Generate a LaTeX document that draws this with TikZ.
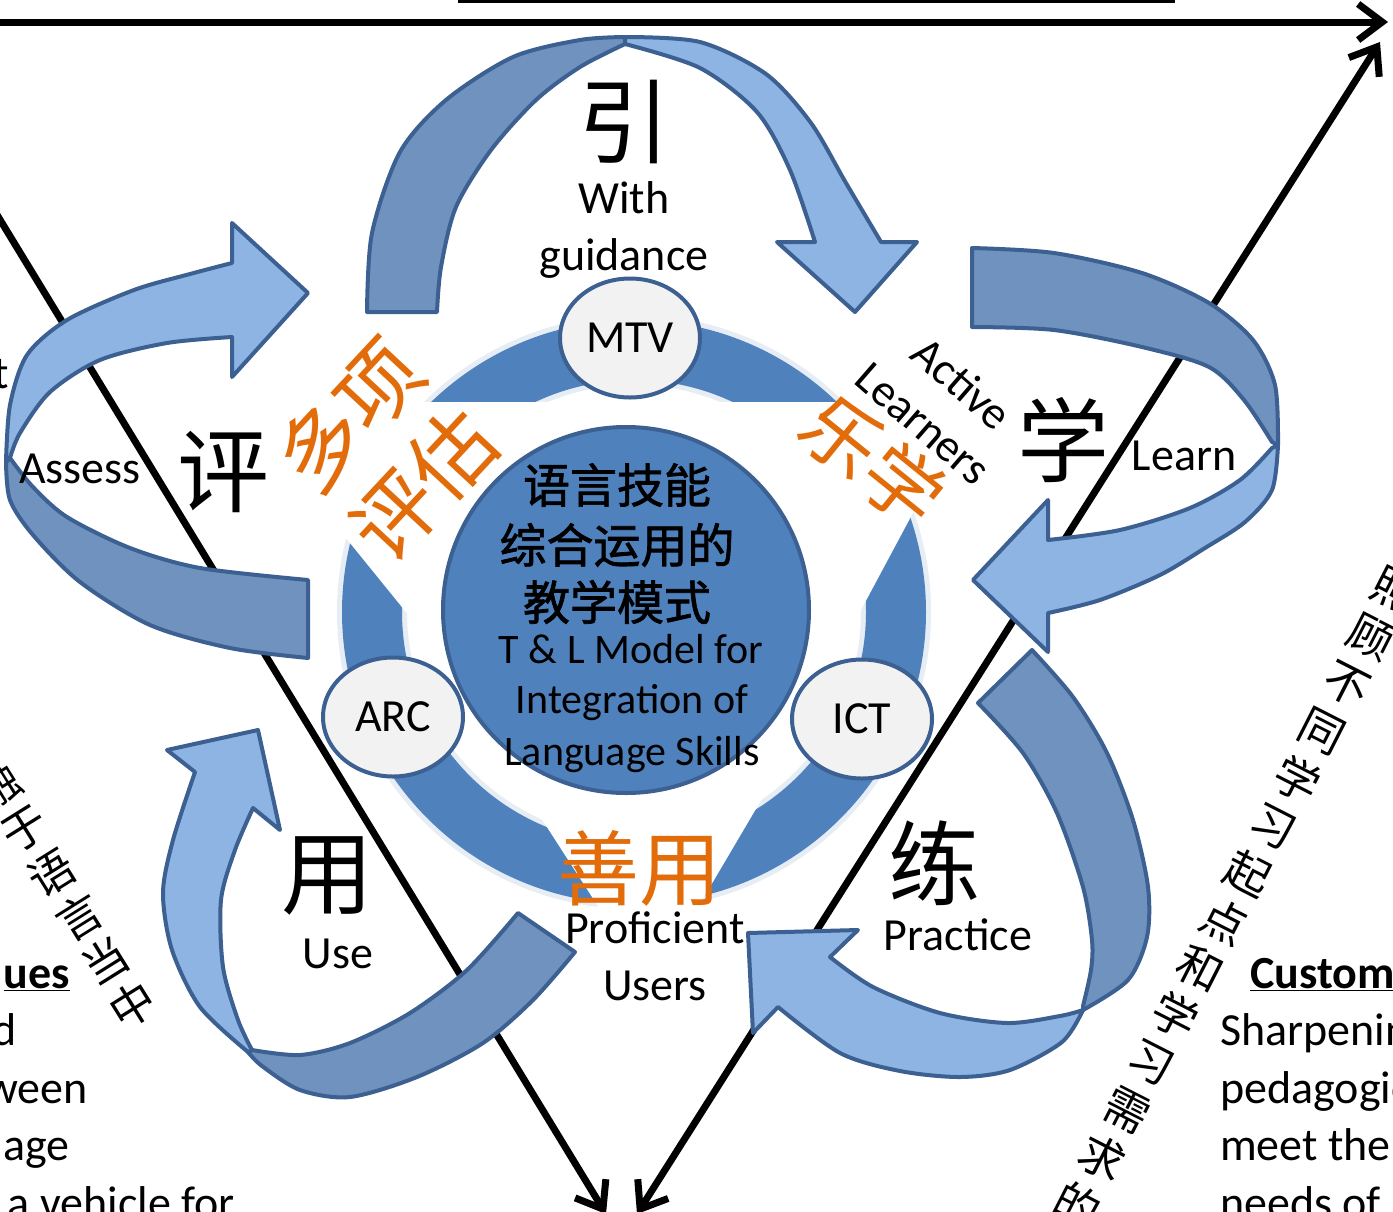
\documentclass[tikz,border=0pt]{standalone}
\usepackage{fontspec}
\setmainfont{Carlito}
\newfontfamily\cjk{Noto Sans CJK SC}
\newfontfamily\cjkb[FakeBold=1.5]{Noto Sans CJK SC}
\usetikzlibrary{arrows.meta,shapes.geometric}
\definecolor{banddark}{RGB}{112,146,190}
\definecolor{bandlight}{RGB}{141,180,226}
\definecolor{bandline}{RGB}{59,96,145}
\definecolor{hubblue}{RGB}{79,129,189}
\definecolor{bubblefill}{RGB}{242,242,242}
\definecolor{zicheng}{RGB}{226,108,10}
\begin{document}
\begin{tikzpicture}[x=1pt,y=-1pt,
  darkband/.style={fill=banddark,draw=bandline,line width=4pt,line join=round},
  lightband/.style={fill=bandlight,draw=bandline,line width=4pt,line join=round},
  bubble/.style={ellipse,fill=bubblefill,draw=bandline,line width=4pt,minimum width=140pt,minimum height=119pt,inner sep=0pt,font=\fontsize{46}{50}\selectfont},
  lbl/.style={inner sep=0pt,font=\fontsize{46}{57}\selectfont},
  bigzi/.style={inner sep=0pt,font=\cjk\fontsize{92}{92}\selectfont},
  orangezi/.style={inner sep=0pt,text=zicheng,font=\cjk\fontsize{84}{101}\selectfont},
  hubzi/.style={inner sep=0pt,font=\cjkb\fontsize{47}{47}\selectfont},
  hubtxt/.style={inner sep=0pt,font=\fontsize{42}{50}\selectfont},
  sidezi/.style={inner sep=0pt,font=\cjk\fontsize{45}{45}\selectfont},
  axis/.style={line width=7pt,line cap=round}]
\useasboundingbox (0,0) rectangle (1393,1211);
\fill[white] (0,0) rectangle (1393,1211);

% frame lines
\coordinate (topL) at (-5,22);
\coordinate (topR) at (1388,22);
\coordinate (lA) at (-12,200);
\coordinate (lB) at (606,1214);
\coordinate (rA) at (1380,42);
\coordinate (rB) at (637,1214);
\draw[line width=3pt] (458,1) -- (1175,1);
\draw[axis,-{Straight Barb[length=24pt,width=36pt]}] (topL) -- (topR);
\draw[axis,-{Straight Barb[length=24pt,width=36pt]}] (lA) -- (lB);
\draw[axis,{Straight Barb[length=24pt,width=36pt]}-{Straight Barb[length=24pt,width=36pt]}] (rA) -- (rB);

% ring
\coordinate (rc) at (634,612);
\fill[hubblue!40,opacity=.35,even odd rule] (rc) circle (297) (rc) circle (227);
\fill[hubblue,even odd rule] (rc) circle (292) (rc) circle (232);
\fill[white] (320,506) -- (320,402) -- (600,402) -- (600,654) -- (440,654) -- cycle;
\fill[white] (650,402) -- (960,402) -- (960,425) -- (831,666) -- (650,666) -- cycle;
\fill[white] (465,700) -- (819,702) -- (694,914) -- (603,914) -- cycle;

% hub and bubbles
\node[circle,fill=hubblue,draw=bandline,line width=4pt,minimum size=366pt,inner sep=0pt] (hub) at (626,610) {};
\node[hubzi] (h1) at (617,485) {语言技能};
\node[hubzi] (h2) at (617,545) {综合运用的};
\node[hubzi] (h3) at (617,602) {教学模式};
\node[hubtxt,anchor=base] (h4) at (631,663) {T \& L Model for};
\node[hubtxt,anchor=base] (h5) at (632,713) {Integration of};
\node[hubtxt,anchor=base] (h6) at (632,765) {Language Skills};
\node[bubble] (mtv) at (630,338) {MTV};
\node[bubble] (arc) at (393,717) {ARC};
\node[bubble] (ict) at (862,719) {ICT};

% top arrow
\filldraw[darkband] plot[smooth] coordinates {(367,312) (372,233) (400,152) (446,100) (513,57) (580,40) (625,37)}
  -- plot[smooth] coordinates {(625,44) (580,67) (536,100) (491,150) (456,207) (441,267) (437,312)} -- cycle;
\filldraw[lightband] plot[smooth] coordinates {(625,37) (700,42) (766,74) (811,123) (846,183) (881,242)}
  -- (917,242) -- (855,312) -- (777,242)
  -- plot[smooth] coordinates {(815,242) (790,170) (757,112) (700,68) (625,44)} -- cycle;
% right arrow
\filldraw[darkband] plot[smooth] coordinates {(972,248) (1054,253) (1142,273) (1209,303) (1253,340) (1275,385) (1278,445)}
  -- plot[smooth] coordinates {(1272,442) (1244,400) (1209,367) (1142,347) (1054,330) (972,327)} -- cycle;
\filldraw[lightband] plot[smooth] coordinates {(1278,445) (1272,490) (1245,522) (1205,548) (1160,575) (1100,600) (1048,613)}
  -- (1048,652) -- (973,580) -- (1048,500)
  -- plot[smooth] coordinates {(1048,540) (1120,530) (1190,508) (1240,480) (1272,448)} -- cycle;
% lower right arrow
\filldraw[darkband] plot[smooth] coordinates {(1032,650) (1073,697) (1107,753) (1133,820) (1148,887) (1147,937) (1128,980) (1083,1010)}
  -- plot[smooth] coordinates {(1083,1006) (1091,970) (1092,940) (1083,887) (1057,813) (1023,753) (978,703)} -- cycle;
\filldraw[lightband] plot[smooth] coordinates {(1083,1010) (1062,1042) (1010,1070) (960,1077) (900,1071) (840,1053) (778,1007)}
  -- (753,1033) -- (748,933) -- (858,930)
  -- plot[smooth] coordinates {(830,957) (873,987) (940,1013) (1007,1023) (1060,1016) (1083,1010)} -- cycle;
% lower left arrow
\filldraw[darkband] plot[smooth] coordinates {(575,952) (533,1000) (483,1043) (417,1077) (350,1097) (300,1090) (262,1066) (248,1052)}
  -- plot[smooth] coordinates {(252,1050) (300,1055) (350,1043) (410,1013) (467,970) (518,913)} -- cycle;
\filldraw[lightband] plot[smooth] coordinates {(248,1052) (200,1007) (172,950) (163,893) (173,840) (195,772)}
  -- (167,750) -- (258,730) -- (280,830)
  -- plot[smooth] coordinates {(253,808) (235,850) (221,900) (223,967) (238,1020) (252,1050)} -- cycle;
% left arrow
\filldraw[darkband] plot[smooth] coordinates {(308,658) (230,648) (150,625) (80,582) (33,535) (10,500) (6,462)}
  -- plot[smooth] coordinates {(10,458) (33,487) (67,517) (130,548) (200,568) (308,580)} -- cycle;
\filldraw[lightband] plot[smooth] coordinates {(6,462) (10,405) (27,355) (67,320) (134,290) (190,274) (232,263)}
  -- (232,223) -- (308,293) -- (232,377)
  -- plot[smooth] coordinates {(232,337) (167,343) (100,360) (50,392) (20,433) (10,458)} -- cycle;

% stage labels
\node[bigzi] (yin) at (624,122) {引};
\node[lbl,anchor=base] (with) at (624,213) {With};
\node[lbl,anchor=base] (guide) at (624,270) {guidance};
\node[bigzi] (xue) at (1063,440) {学};
\node[lbl,anchor=base] (learn) at (1184,470) {Learn};
\node[lbl,rotate=-41] (active) at (962,383) {Active};
\node[lbl,rotate=-41] (learners) at (923,424) {Learners};
\node[bigzi] (lian) at (934,863) {练};
\node[lbl,anchor=base] (practice) at (958,950) {Practice};
\node[bigzi] (yong) at (327,876) {用};
\node[lbl,anchor=base] (use) at (338,968) {Use};
\node[bigzi] (ping) at (223,472) {评};
\node[lbl,anchor=base] (assess) at (80,483) {Assess};
\node[lbl,anchor=base] (prof) at (655,943) {Proficient};
\node[lbl,anchor=base] (users) at (655,1000) {Users};

% orange labels
\node[orangezi,rotate=47,align=center] (duoxiang) at (386,450) {多项\\评估};
\node[orangezi,rotate=-39,font=\cjk\fontsize{78}{78}\selectfont] (lexue) at (873,460) {乐学};
\node[orangezi,font=\cjk\fontsize{82}{82}\selectfont] (shanyong) at (639,868) {善用};

% side texts
\foreach \zi [count=\k from 0] in {融,于,语,言,当,中}
  \node[sidezi,rotate=32] (l\k) at ({-2+27*\k},{786+43.75*\k}) {\zi};
\foreach \zi [count=\k from 0] in {照,顾,不,同,学,习,起,点,和,学,习,需,求,的}
  \node[sidezi,rotate=-27] (r\k) at ({1395-24.4*\k},{590+47.3*\k}) {\zi};
\node[lbl,anchor=base west] (tcut) at (-7,388) {t};

% bottom left fragments
\node[lbl,anchor=base east] (b1) at (70,988) {\bfseries\underline{ues}};
\node[lbl,anchor=base east] (b2) at (17,1045) {d};
\node[lbl,anchor=base east] (b3) at (88,1103) {ween};
\node[lbl,anchor=base east] (b4) at (70,1160) {age};
\node[lbl,anchor=base east] (b5) at (235,1218) {a vehicle for};

% bottom right fragments
\node[lbl,anchor=base west] (c1) at (1250,988) {\bfseries\underline{Custom}};
\node[lbl,anchor=base west] (c2) at (1220,1045) {Sharpening};
\node[lbl,anchor=base west] (c3) at (1220,1103) {pedagogical};
\node[lbl,anchor=base west] (c4) at (1220,1160) {meet the};
\node[lbl,anchor=base west] (c5) at (1220,1218) {needs of};
\end{tikzpicture}
\end{document}
